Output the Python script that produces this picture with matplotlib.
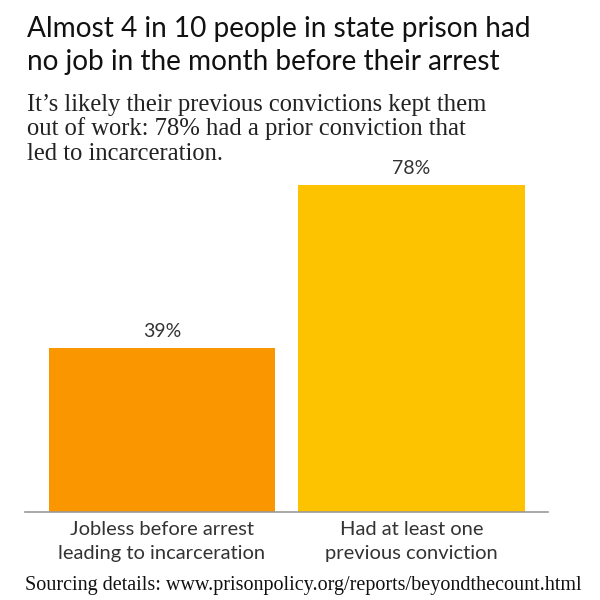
import matplotlib
matplotlib.use("Agg")
import matplotlib.pyplot as plt

categories = ["Jobless before arrest\nleading to incarceration",
              "Had at least one\nprevious conviction"]
values = [39, 78]
labels = ["39%", "78%"]
colors = ["#FA9600", "#FDC300"]

title = "Almost 4 in 10 people in state prison had\nno job in the month before their arrest"
subtitle_lines = ["It\u2019s likely their previous convictions kept them",
                  "out of work: 78% had a prior conviction that",
                  "led to incarceration."]
source = "Sourcing details: www.prisonpolicy.org/reports/beyondthecount.html"

fig = plt.figure(figsize=(6, 6), dpi=100)
ax = fig.add_axes([25/600, (600-511.5)/600, 523/600, 80*4.186/600])
x = list(range(len(values)))
ax.bar(x, values, width=0.906, color=colors)
ax.set_xlim(-0.549, 1.547)
ax.set_ylim(0, 80)
for s in ["top", "right", "left"]:
    ax.spines[s].set_visible(False)
ax.spines["bottom"].set_color("#999999")
ax.spines["bottom"].set_linewidth(1.2)
ax.set_yticks([])
ax.set_xticks(x)
ax.set_xticklabels(categories, fontsize=14.5, family="Lato", color="#333333",
                   linespacing=1.5)
ax.tick_params(axis="x", length=0, pad=7)
for xi, v, lab in zip(x, values, labels):
    ax.text(xi, v + 2, lab, ha="center", va="bottom", fontsize=14,
            family="Lato", color="#333333")

fig.text(27/600, 1 - 16/600, title, ha="left", va="top", fontsize=20.2,
         family="Lato", color="#111111", linespacing=1.35)
for i, line in enumerate(subtitle_lines):
    fig.text(27/600, 1 - (111 + 24.5 * i)/600, line, ha="left", va="baseline",
             fontsize=17.7, family="Liberation Serif", color="#222222")
fig.text(25/600, 1 - 595/600, source, ha="left", va="bottom", fontsize=14.5,
         family="Liberation Serif", color="#111111")

fig.savefig("out.png", dpi=100)
